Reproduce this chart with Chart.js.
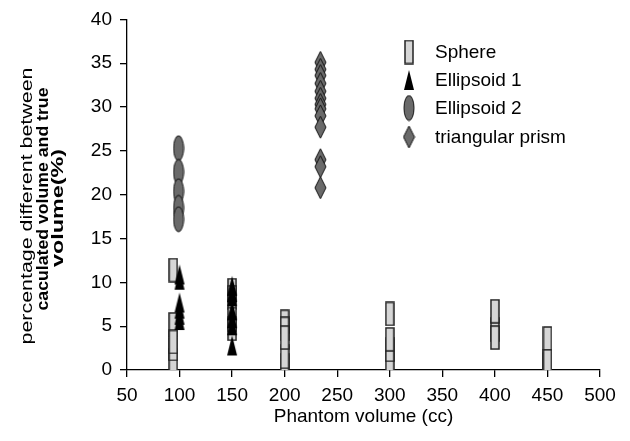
<!DOCTYPE html>
<html>
<head>
<meta charset="utf-8">
<script src="https://cdn.jsdelivr.net/npm/chart.js@4"></script>
<style>
  body { margin: 0; background: #fff; }
  #wrap { width: 630px; height: 441px; }
</style>
</head>
<body>
<div id="wrap"><canvas id="chart" width="630" height="441"></canvas></div>
<script>
// Data
const sphereVol = [94, 94, 94, 94, 94, 150, 150, 150, 150, 200, 200, 200, 200, 200, 300, 300, 300, 300, 400, 400, 400, 450, 450, 450];
const spherePct = [11.4, 5.2, 1.1, 2.4, 3.2, 9.1, 8.3, 4.7, 5.8, 5.5, 0.5, 1.5, 4.7, 3.7, 6.4, 0.7, 2.3, 3.5, 4.6, 6.7, 3.7, 3.6, 0.7, 1.0];

const ell1Vol = [100, 100, 100, 100, 100, 100, 150, 150, 150, 150, 150, 150, 150];
const ell1Pct = [10.9, 10.3, 7.7, 7.0, 6.3, 5.7, 9.6, 8.9, 8.4, 6.8, 5.9, 5.1, 2.8];

const ell2Vol = [99, 99, 99, 99, 99];
const ell2Pct = [25.3, 22.6, 20.4, 18.5, 17.2];

const prismVol = [234, 234, 234, 234, 234, 234, 234, 234, 234, 234, 234, 234, 234];
const prismPct = [35.1, 34.3, 33.6, 32.7, 31.8, 31.0, 30.3, 29.8, 29.0, 27.7, 24.0, 23.2, 20.8];

const seriesNames = ['Sphere', 'Ellipsoid 1', 'Ellipsoid 2', 'triangular prism'];
const xTicks = [50, 500, 50];   // min, max, step
const yTicks = [0, 40, 5];
const yTitle = ['percentage different between', 'caculated volume and true', 'volume(%)'];
const xTitle = 'Phantom volume (cc)';

const FONT = 'Liberation Sans, Arial, sans-serif';

// marker images
function marker(w, h, draw) {
    const c = document.createElement('canvas');
    c.width = w;
    c.height = h;
    draw(c.getContext('2d'), w, h);
    return c;
}

const rectMark = marker(10, 25, (g, w, h) => {
    g.fillStyle = '#d6d6d6';
    g.strokeStyle = '#222';
    g.lineWidth = 1.5;
    g.fillRect(1, 1, w - 2, h - 2);
    g.strokeRect(1, 1, w - 2, h - 2);
});
const triMark = marker(12, 22, (g, w, h) => {
    g.fillStyle = '#000';
    g.beginPath();
    g.moveTo(w / 2, 1);
    g.lineTo(w - 1, h - 1);
    g.lineTo(1, h - 1);
    g.closePath();
    g.fill();
});
const ovalMark = marker(12, 27, (g, w, h) => {
    g.fillStyle = '#6a6a6a';
    g.strokeStyle = '#111';
    g.lineWidth = 1;
    g.beginPath();
    g.ellipse(w / 2, h / 2, w / 2 - 1, h / 2 - 1, 0, 0, Math.PI * 2);
    g.fill();
    g.stroke();
});
const diamondMark = marker(13, 24, (g, w, h) => {
    g.fillStyle = '#6a6a6a';
    g.strokeStyle = '#111';
    g.lineWidth = 1;
    g.beginPath();
    g.moveTo(w / 2, 1);
    g.lineTo(w - 1, h / 2);
    g.lineTo(w / 2, h - 1);
    g.lineTo(1, h / 2);
    g.closePath();
    g.fill();
    g.stroke();
});
const markers = [rectMark, triMark, ovalMark, diamondMark];

const toPoints = (xs, ys) => xs.map((x, i) => ({ x: x, y: ys[i] }));
const series = [
    toPoints(sphereVol, spherePct),
    toPoints(ell1Vol, ell1Pct),
    toPoints(ell2Vol, ell2Pct),
    toPoints(prismVol, prismPct)
];

// y title (mixed bold) and legend drawn on the canvas
const extras = {
    id: 'extras',
    afterDraw(chart) {
        const g = chart.ctx;
        g.save();
        g.fillStyle = '#000';
        g.textBaseline = 'middle';

        // y axis title, three rotated lines stretched to the original lengths
        const lineX = [27, 44, 59];
        const lineY = [206, 199, 208];
        const lineLen = [277, 223, 118];
        const fonts = ['17px ', 'bold 16px ', 'bold 16px '];
        yTitle.forEach((t, i) => {
            g.save();
            g.font = fonts[i] + FONT;
            const k = lineLen[i] / g.measureText(t).width;
            g.translate(lineX[i], lineY[i]);
            g.rotate(-Math.PI / 2);
            g.scale(k, 1);
            g.textAlign = 'center';
            g.fillText(t, 0, 0);
            g.restore();
        });

        // legend
        const rowY = [52, 80, 108, 137];
        g.textAlign = 'left';
        g.font = '19px ' + FONT;
        seriesNames.forEach((name, i) => {
            const m = markers[i];
            g.drawImage(m, 409 - m.width / 2, rowY[i] - m.height / 2);
            g.fillText(name, 435, rowY[i] + 1);
        });
        g.restore();
    }
};

new Chart(document.getElementById('chart'), {
    type: 'scatter',
    data: {
        datasets: series.map((pts, i) => ({
            label: seriesNames[i],
            data: pts,
            pointStyle: markers[i],
            pointRadius: 6,
            showLine: false,
            order: 4 - i
        }))
    },
    options: {
        responsive: false,
        animation: false,
        devicePixelRatio: 1,
        layout: { padding: { top: 18, right: 30, left: 0, bottom: 0 } },
        plugins: {
            legend: { display: false },
            tooltip: { enabled: false }
        },
        scales: {
            x: {
                type: 'linear',
                min: xTicks[0],
                max: xTicks[1],
                afterFit: s => { s.height = 71; },
                ticks: { stepSize: xTicks[2], color: '#000', padding: 7, maxRotation: 0, font: { family: FONT, size: 19 } },
                grid: { drawOnChartArea: false, drawTicks: true, tickLength: 7, color: '#000', lineWidth: 1.3 },
                border: { display: true, color: '#000', width: 1.3 },
                title: { display: true, text: xTitle, color: '#000', font: { family: FONT, size: 19 }, padding: { top: 0, bottom: 13 } }
            },
            y: {
                min: yTicks[0],
                max: yTicks[1],
                afterFit: s => { s.width = 127; },
                ticks: { stepSize: yTicks[2], color: '#000', padding: 8, font: { family: FONT, size: 19 } },
                grid: { drawOnChartArea: false, drawTicks: true, tickLength: 7, color: '#000', lineWidth: 1.3 },
                border: { display: true, color: '#000', width: 1.3 }
            }
        }
    },
    plugins: [extras]
});
</script>
</body>
</html>
